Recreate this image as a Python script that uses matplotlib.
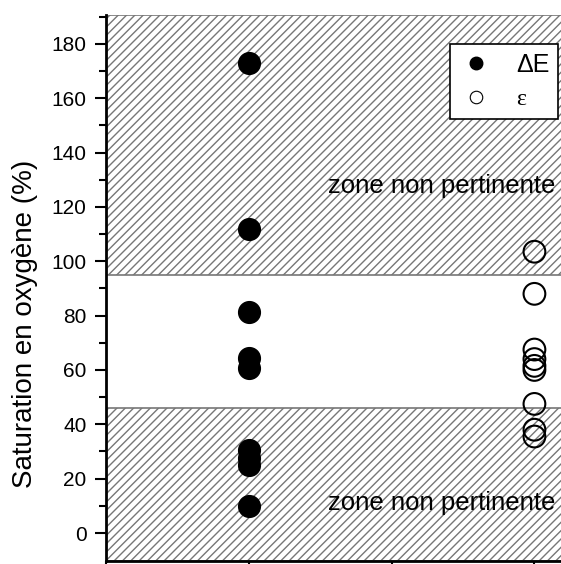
import matplotlib.pyplot as plt
from matplotlib.lines import Line2D

# saturation values (%)
delta_e = [173, 112, 81.5, 64.5, 60.8, 30.5, 27.5, 25, 10]
epsilon = [103.5, 88, 67.5, 64, 61.5, 60, 47.5, 38, 35.5]
x_de = 1
x_eps = 3
zone_low = 46
zone_high = 95

plt.rcParams['font.family'] = ['Liberation Sans', 'DejaVu Sans']
plt.rcParams['hatch.color'] = '#333333'
plt.rcParams['hatch.linewidth'] = 1.0

fig = plt.figure(figsize=(5.61, 5.64), dpi=100)
ax = fig.add_axes([106 / 561, 3 / 564, 457 / 561, 546 / 564])

ymin, ymax = -10.3, 190.6
ax.axhspan(zone_high, ymax, facecolor='white', edgecolor='#777777', hatch='////', linewidth=1.2, zorder=0)
ax.axhspan(ymin, zone_low, facecolor='white', edgecolor='#777777', hatch='////', linewidth=1.2, zorder=0)

ax.scatter([x_de] * len(delta_e), delta_e, s=245, c='black', edgecolors='black', zorder=3)
ax.scatter([x_eps] * len(epsilon), epsilon, s=245, facecolors='none', edgecolors='black', linewidths=1.5, zorder=3)

ax.text(3.147, 125.1, 'zone non pertinente', ha='right', va='baseline', fontsize=18.5, zorder=4)
ax.text(3.147, 8.5, 'zone non pertinente', ha='right', va='baseline', fontsize=18.5, zorder=4)

ax.set_xlim(0, 3.2)
ax.set_ylim(ymin, ymax)
ax.set_xticks([0, 1, 2, 3])
ax.set_xticklabels([])
ax.set_yticks(range(0, 181, 20))
ax.set_yticks(range(10, 191, 20), minor=True)
ax.tick_params(axis='both', which='major', direction='out', length=8, width=1.5, labelsize=15, pad=6)
ax.tick_params(axis='y', which='minor', direction='out', length=5, width=1.5)
ax.spines['top'].set_visible(False)
ax.spines['right'].set_visible(False)
ax.spines['left'].set_linewidth(2)
ax.spines['bottom'].set_linewidth(2)
ax.set_ylabel('Saturation en oxygène (%)', fontsize=20)
ax.yaxis.set_label_coords(-0.178, 0.435)
ax.yaxis.label.set_va('center')

handles = [
    Line2D([], [], marker='o', linestyle='none', markersize=9, markerfacecolor='black', markeredgecolor='black'),
    Line2D([], [], marker='o', linestyle='none', markersize=9, markerfacecolor='white', markeredgecolor='black', markeredgewidth=0.8),
]
leg = ax.legend(handles, ['ΔE', 'ε'], loc='upper right', bbox_to_anchor=(0.989, 0.947),
                frameon=True, fancybox=False, edgecolor='black', framealpha=1,
                fontsize=18, borderpad=0.35, labelspacing=0.45, handletextpad=0.9,
                handlelength=1.4, borderaxespad=0)
leg.get_frame().set_linewidth(1.2)
leg.get_texts()[1].set_family(['Liberation Serif'])
leg.get_texts()[1].set_fontsize(17)

fig.savefig('out.png', dpi=100)
